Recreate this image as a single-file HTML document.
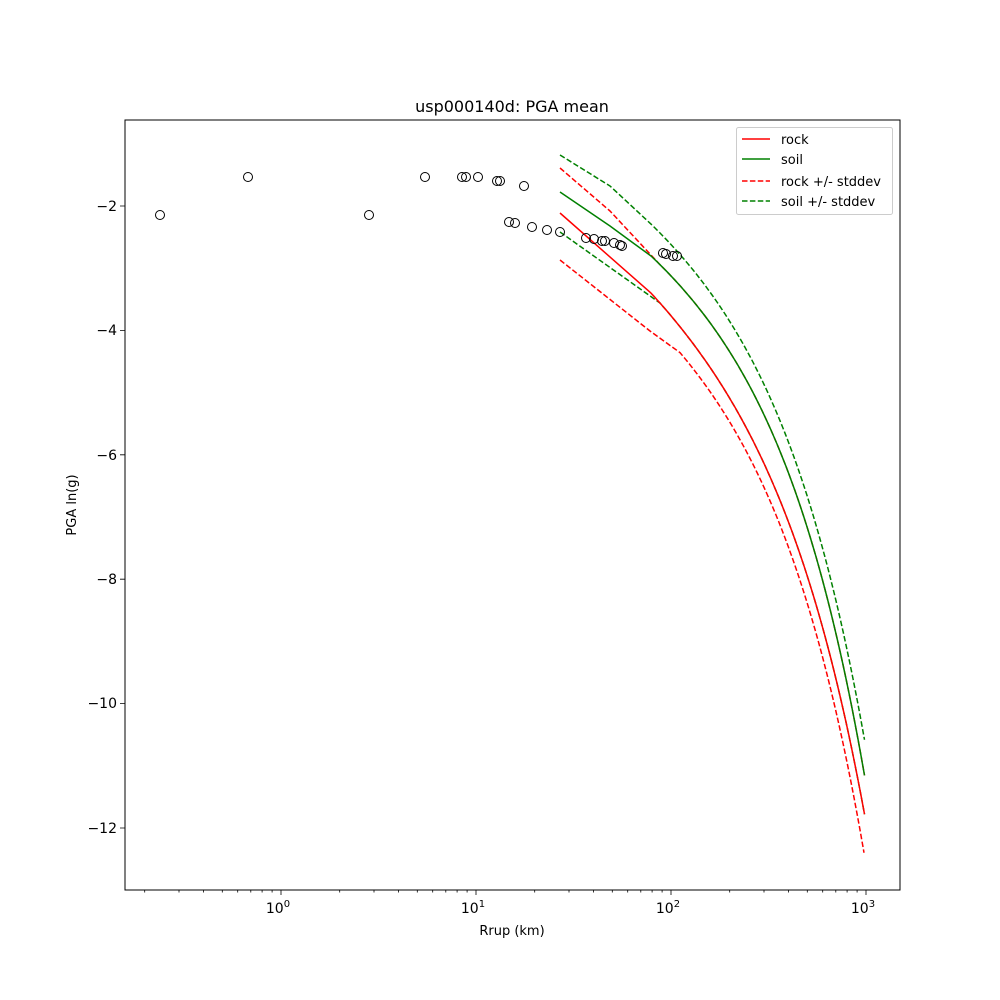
<!DOCTYPE html>
<html><head><meta charset="utf-8"><style>body{margin:0;background:#fff}svg{display:block}text{font-family:"DejaVu Sans","Liberation Sans",sans-serif;fill:#000}</style></head>
<body>
<svg id="s" width="1000" height="1000" viewBox="0 0 1000 1000" xmlns="http://www.w3.org/2000/svg">
<rect width="1000" height="1000" fill="#fff"/>
<g fill="none" stroke-width="1.5" stroke-linejoin="round">
<path id="gdu" stroke="#008000" stroke-dasharray="5.5,2.4"/>
<path id="rdl" stroke="#ff0000" stroke-dasharray="5.5,2.4"/>
<path id="rdu" stroke="#ff0000" stroke-dasharray="5.5,2.4"/>
<path id="gdl" stroke="#008000" stroke-dasharray="5.5,2.4"/>
<path id="rk" stroke="#ff0000"/>
<path id="sl" stroke="#008000"/>
</g>
<g fill="none" stroke="#000" stroke-width="1">
<circle cx="160" cy="215" r="4.5"/><circle cx="248" cy="177" r="4.5"/><circle cx="369" cy="215" r="4.5"/><circle cx="425" cy="177" r="4.5"/>
<circle cx="462" cy="177" r="4.5"/><circle cx="466" cy="177" r="4.5"/><circle cx="478" cy="177" r="4.5"/><circle cx="497" cy="181" r="4.5"/>
<circle cx="500" cy="181" r="4.5"/><circle cx="524" cy="186" r="4.5"/><circle cx="509" cy="222" r="4.5"/><circle cx="515" cy="223" r="4.5"/>
<circle cx="532" cy="227" r="4.5"/><circle cx="547" cy="230" r="4.5"/><circle cx="560" cy="232" r="4.5"/><circle cx="586" cy="238" r="4.5"/>
<circle cx="594" cy="239" r="4.5"/><circle cx="602" cy="241" r="4.5"/><circle cx="605" cy="241" r="4.5"/><circle cx="614" cy="243" r="4.5"/>
<circle cx="620" cy="245" r="4.5"/><circle cx="622" cy="246" r="4.5"/><circle cx="663" cy="253" r="4.5"/><circle cx="666" cy="254" r="4.5"/>
<circle cx="673" cy="256" r="4.5"/><circle cx="677" cy="256" r="4.5"/>
</g>
<rect x="125" y="120" width="775" height="770" fill="none" stroke="#000" stroke-width="1"/>
<g stroke="#000" stroke-width="0.8">
<path d="M281,890v5M476,890v5M671,890v5M866,890v5"/>
<path d="M144.7,890v2.5M179,890v2.5M203.4,890v2.5M222.3,890v2.5M237.7,890v2.5M250.8,890v2.5M262.1,890v2.5M272.1,890v2.5M339.7,890v2.5M374,890v2.5M398.4,890v2.5M417.3,890v2.5M432.7,890v2.5M445.8,890v2.5M457.1,890v2.5M467.1,890v2.5M534.7,890v2.5M569,890v2.5M593.4,890v2.5M612.3,890v2.5M627.7,890v2.5M640.8,890v2.5M652.1,890v2.5M662.1,890v2.5M729.7,890v2.5M764,890v2.5M788.4,890v2.5M807.3,890v2.5M822.7,890v2.5M835.8,890v2.5M847.1,890v2.5M857.1,890v2.5"/>
<path d="M125,206h-5M125,330.4h-5M125,454.8h-5M125,579.2h-5M125,703.6h-5M125,828h-5"/>
</g>
<g font-size="14" text-anchor="end">
<text x="117" y="211">−2</text><text x="117" y="335">−4</text><text x="117" y="460">−6</text>
<text x="117" y="584">−8</text><text x="117" y="708">−10</text><text x="117" y="833">−12</text>
</g>
<g font-size="14" text-anchor="middle">
<text x="278" y="913">10<tspan font-size="10" dy="-6">0</tspan></text>
<text x="473" y="913">10<tspan font-size="10" dy="-6">1</tspan></text>
<text x="668" y="913">10<tspan font-size="10" dy="-6">2</tspan></text>
<text x="863" y="913">10<tspan font-size="10" dy="-6">3</tspan></text>
<text x="512" y="935" font-size="13">Rrup (km)</text>
<text x="512" y="112" font-size="16">usp000140d: PGA mean</text>
</g>
<text x="0" y="0" font-size="13" text-anchor="middle" transform="translate(76,505) rotate(-90)">PGA ln(g)</text>
<rect x="736.5" y="127.5" width="156" height="87" rx="2" fill="#fff" stroke="#ccc"/>
<g stroke-width="1.5">
<line x1="742" y1="139" x2="770" y2="139" stroke="#ff0000"/>
<line x1="742" y1="159" x2="770" y2="159" stroke="#008000"/>
<line x1="742" y1="181" x2="770" y2="181" stroke="#ff0000" stroke-dasharray="5.5,2.4"/>
<line x1="742" y1="201" x2="770" y2="201" stroke="#008000" stroke-dasharray="5.5,2.4"/>
</g>
<g font-size="13">
<text x="781" y="144">rock</text><text x="781" y="164">soil</text>
<text x="781" y="186">rock +/- stddev</text><text x="781" y="206">soil +/- stddev</text>
</g>
</svg>
<script>
function F(a,b,c){return function(x){var r=Math.pow(10,(x-281)/195);return a+b*Math.log(r)+c*r;};}
function path(pre,f,x0,x1){var p=pre.slice();for(var x=x0;x<x1;x+=3){p.push([x,f(x)]);}p.push([x1,f(x1)]);
return "M"+p.map(function(q){return q[0].toFixed(1)+","+q[1].toFixed(1);}).join(" L");}
var A=F(-1.0,59.9,0.4097),B=F(26.8,44.3,0.4513),G=F(-18.9,47.7,0.4377),R=F(68.5,49.6,0.4533);
function S(id,d){document.getElementById(id).setAttribute("d",d);}
S("rk",path([[560,213]],A,651,864.5));
S("gdl",path([[560,232]],A,660,864.5));
S("sl",path([[560,192],[610,226]],B,651,864.5));
S("rdu",path([[560,168],[610,211]],B,660,864.5));
S("gdu",path([[560,155],[610,186]],G,651,864.5));
S("rdl",path([[560,260],[650,331]],R,680,864));
</script>
</body></html>
